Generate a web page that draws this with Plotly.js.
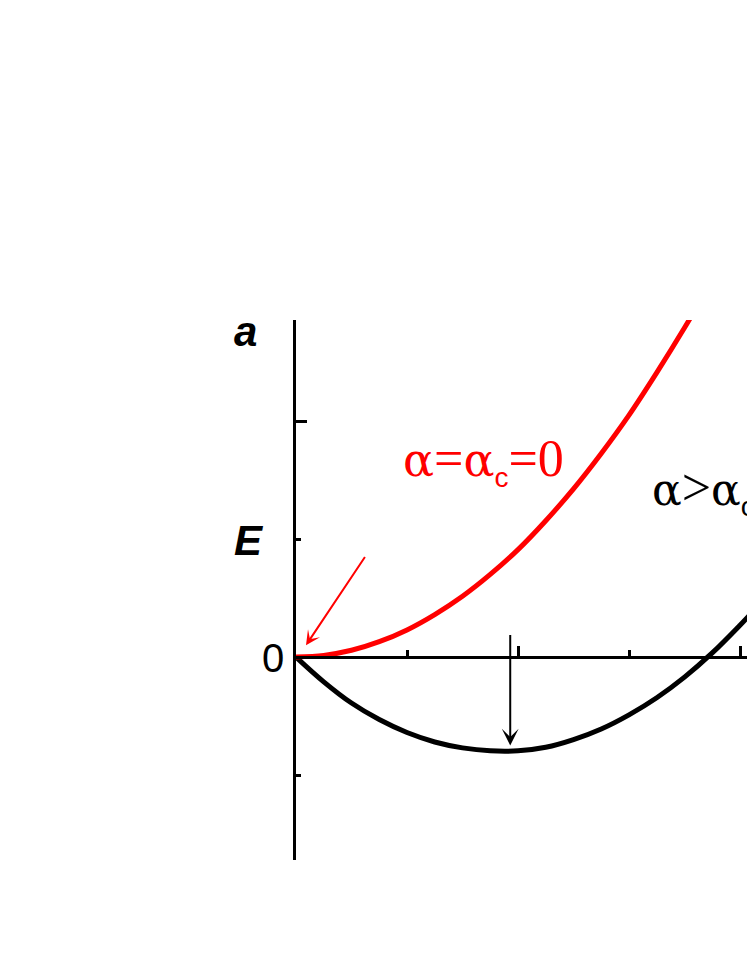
<!DOCTYPE html>
<html>
<head>
<meta charset="utf-8">
<script src="https://cdn.plot.ly/plotly-3.0.1.min.js"></script>
<style>html,body{margin:0;padding:0;background:#fff;}#chart{width:747px;height:967px;}</style>
</head>
<body>
<div id="chart"></div>
<script>
// Values (x in minor-tick units, E in minor-tick units)
const xRed   = [0, 0.25, 0.5, 0.75, 1.0, 1.25, 1.5, 1.75, 2.0, 2.25, 2.5, 2.75, 3.0, 3.25, 3.5, 3.6];
const eRed   = [0, 0.014, 0.057, 0.13, 0.23, 0.36, 0.515, 0.70, 0.91, 1.155, 1.425, 1.725, 2.05, 2.41, 2.79, 2.95];
const xBlack = [0, 0.25, 0.5, 0.75, 1.0, 1.25, 1.5, 1.75, 2.0, 2.25, 2.5, 2.75, 3.0, 3.25, 3.5, 3.75, 4.0, 4.1];
const eBlack = [0, -0.21, -0.39, -0.53, -0.64, -0.72, -0.77, -0.795, -0.795, -0.765, -0.70, -0.61, -0.49, -0.345, -0.17, 0.035, 0.27, 0.37];
const labelRed = 'α=α_c=0';
const labelBlack = 'α>α_c';
const panelLabel = 'a';
const axisLabel = 'E';
const zeroLabel = '0';

// turn "α_c" into α with a sans subscript c; α in a serif face that has the glyph
function fmt(s, alphaSize, subSize) {
  return s.split('').map((ch, i, arr) => {
    if (ch === '_') return '';
    if (arr[i - 1] === '_') return '<sub><span style="font-family:Arial;font-size:' + subSize + 'px">' + ch + '</span></sub>';
    if (ch === 'α') return '<span style="font-family:DejaVu Serif;font-size:' + alphaSize + 'px">α</span>';
    return ch;
  }).join('');
}

const traces = [
  {x: xBlack, y: eBlack, mode: 'lines', line: {color: '#000', width: 5, shape: 'spline'}, hoverinfo: 'skip'},
  {x: xRed, y: eRed, mode: 'lines', line: {color: '#ff0000', width: 5, shape: 'spline'}, hoverinfo: 'skip'}
];

const SANS = 'Arial';
const SERIF = 'Liberation Serif';
const yMin = -1.72, yMax = 2.856;
const layout = {
  width: 747, height: 967,
  margin: {l: 296, r: 0, t: 320, b: 107, pad: 0},
  paper_bgcolor: '#fff', plot_bgcolor: '#fff',
  showlegend: false,
  xaxis: {
    range: [0, 4.063], showgrid: false, zeroline: false,
    showline: true, linecolor: '#000', linewidth: 3,
    anchor: 'free', position: (0 - yMin) / (yMax - yMin),
    ticks: 'inside', tickvals: [0, 2, 4], ticklen: 10, tickwidth: 3, tickcolor: '#000',
    showticklabels: false,
    minor: {tickvals: [1, 3], ticks: 'inside', ticklen: 6, tickwidth: 3, tickcolor: '#000'}
  },
  yaxis: {
    range: [yMin, yMax], showgrid: false, zeroline: false,
    showline: true, linecolor: '#000', linewidth: 3,
    ticks: 'inside', tickvals: [2], ticklen: 11, tickwidth: 3, tickcolor: '#000',
    showticklabels: false,
    minor: {tickvals: [-1, 1], ticks: 'inside', ticklen: 5, tickwidth: 3, tickcolor: '#000'}
  },
  annotations: [
    {x: -0.113, y: 0.978, xref: 'paper', yref: 'paper', xanchor: 'center', yanchor: 'middle',
     text: '<b><i>' + panelLabel + '</i></b>', showarrow: false, font: {family: SANS, size: 42, color: '#000'}},
    {x: -0.104, y: 0.592, xref: 'paper', yref: 'paper', xanchor: 'center', yanchor: 'middle',
     text: '<b><i>' + axisLabel + '</i></b>', showarrow: false, font: {family: SANS, size: 42, color: '#000'}},
    {x: -0.051, y: 0.374, xref: 'paper', yref: 'paper', xanchor: 'center', yanchor: 'middle',
     text: zeroLabel, showarrow: false, font: {family: SANS, size: 40, color: '#000'}},
    {x: 0.945, y: 1.66, xref: 'x', yref: 'y', xanchor: 'left', yanchor: 'middle', text: fmt(labelRed, 46, 28), showarrow: false,
     font: {family: SERIF, size: 52, color: '#ff0000'}},
    {x: 3.19, y: 1.41, xref: 'x', yref: 'y', xanchor: 'left', yanchor: 'middle', text: fmt(labelBlack, 44, 28), showarrow: false,
     font: {family: SERIF, size: 52, color: '#000'}},
    // red arrow pointing at the origin
    {x: 0.09, y: 0.10, xref: 'x', yref: 'y', ax: 0.63, ay: 0.86, axref: 'x', ayref: 'y',
     text: '', showarrow: true, arrowhead: 3, arrowsize: 1.2, arrowwidth: 2, arrowcolor: '#ff0000'},
    // black arrow pointing at the minimum
    {x: 1.93, y: -0.75, xref: 'x', yref: 'y', ax: 1.93, ay: 0.2, axref: 'x', ayref: 'y',
     text: '', showarrow: true, arrowhead: 3, arrowsize: 1.4, arrowwidth: 2, arrowcolor: '#000'}
  ]
};
Plotly.newPlot('chart', traces, layout, {displayModeBar: false, staticPlot: true});
</script>
</body>
</html>
